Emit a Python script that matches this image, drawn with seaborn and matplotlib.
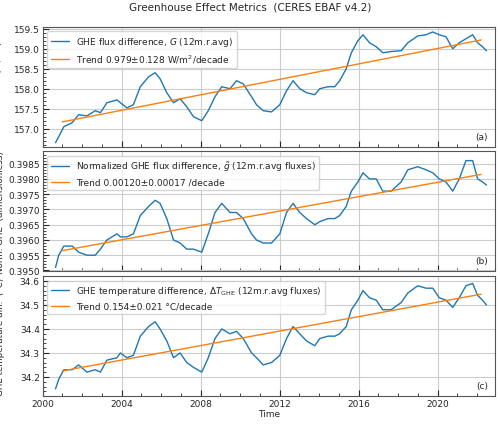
import numpy as np
import pandas as pd
import matplotlib
matplotlib.use("Agg")
import matplotlib.pyplot as plt
from matplotlib.ticker import MultipleLocator
import seaborn as sns

# values (12-month running averages)
years = [2000.66, 2000.82, 2001.08, 2001.5, 2001.83, 2002.25, 2002.67, 2002.93, 2003.26,
         2003.77, 2003.94, 2004.27, 2004.6, 2004.95, 2005.37, 2005.7, 2005.95, 2006.29,
         2006.63, 2006.96, 2007.3, 2007.64, 2008.06, 2008.39, 2008.73, 2009.07, 2009.49,
         2009.82, 2010.16, 2010.58, 2010.83, 2011.17, 2011.59, 2012.01, 2012.35, 2012.68,
         2013.02, 2013.36, 2013.78, 2014.03, 2014.45, 2014.79, 2015.04, 2015.37, 2015.63,
         2015.96, 2016.22, 2016.55, 2016.89, 2017.22, 2017.64, 2018.15, 2018.49, 2018.99,
         2019.41, 2019.75, 2020.08, 2020.42, 2020.76, 2021.09, 2021.43, 2021.77, 2022.02,
         2022.27, 2022.47]

ghe_flux = [156.65, 156.8, 157.05, 157.15, 157.35, 157.32, 157.45, 157.4, 157.65,
            157.72, 157.65, 157.52, 157.6, 158.05, 158.3, 158.4, 158.25, 157.9,
            157.65, 157.75, 157.55, 157.3, 157.2, 157.45, 157.8, 158.05, 158.0,
            158.2, 158.12, 157.8, 157.6, 157.45, 157.42, 157.6, 157.95, 158.2,
            158.0, 157.9, 157.85, 158.0, 158.05, 158.05, 158.2, 158.5, 158.9,
            159.2, 159.35, 159.15, 159.05, 158.9, 158.93, 158.95, 159.15, 159.32,
            159.35, 159.42, 159.35, 159.3, 159.0, 159.15, 159.25, 159.35, 159.15,
            159.05, 158.95]

norm_ghe = [0.3951, 0.3955, 0.3958, 0.3958, 0.3956, 0.3955, 0.3955, 0.3957, 0.3960,
            0.3962, 0.3961, 0.3961, 0.3962, 0.3968, 0.3971, 0.3973, 0.3972, 0.3967,
            0.3960, 0.3959, 0.3957, 0.3957, 0.3956, 0.3962, 0.3969, 0.3972, 0.3969,
            0.3969, 0.3967, 0.3962, 0.3960, 0.3959, 0.3959, 0.3962, 0.3969, 0.3972,
            0.3969, 0.3967, 0.3965, 0.3966, 0.3967, 0.3967, 0.3968, 0.3971, 0.3976,
            0.3979, 0.3982, 0.3980, 0.3980, 0.3976, 0.3976, 0.3979, 0.3983, 0.3984,
            0.3983, 0.3982, 0.3980, 0.3979, 0.3976, 0.3980, 0.3986, 0.3986, 0.3980,
            0.3979, 0.3978]

ghe_temp = [34.15, 34.19, 34.23, 34.23, 34.25, 34.22, 34.23, 34.22, 34.27,
            34.28, 34.30, 34.28, 34.29, 34.37, 34.41, 34.43, 34.40, 34.35,
            34.28, 34.30, 34.26, 34.24, 34.22, 34.28, 34.36, 34.40, 34.38,
            34.39, 34.36, 34.30, 34.28, 34.25, 34.26, 34.29, 34.36, 34.41,
            34.38, 34.35, 34.33, 34.36, 34.37, 34.37, 34.38, 34.41, 34.48,
            34.52, 34.56, 34.53, 34.52, 34.48, 34.48, 34.51, 34.55, 34.58,
            34.57, 34.57, 34.53, 34.52, 34.49, 34.53, 34.58, 34.59, 34.54,
            34.52, 34.50]

trend_years = [2001.0, 2022.2]
trend_flux = [157.17, 159.22]
trend_norm = [0.39565, 0.39815]
trend_temp = [34.225, 34.545]

sns.set_style("ticks")
plt.rcParams["mathtext.fontset"] = "dejavusans"
plt.rcParams["font.size"] = 7

panels = [
    (ghe_flux, trend_flux, "GHE flux difference, $G$ (12m.r.avg)",
     "Trend 0.979±0.128 W/m$^2$/decade", "GHE flux diff. (W/m$^2$)", (156.55, 159.55), 0.5, 0.1, "(a)"),
    (norm_ghe, trend_norm, r"Normalized GHE flux difference, $\tilde{g}$ (12m.r.avg fluxes)",
     "Trend 0.00120±0.00017 /decade", "Norm. GHE  (dimensionless)", (0.39497, 0.39890), 0.0005, 0.0001, "(b)"),
    (ghe_temp, trend_temp, r"GHE temperature difference, $\Delta T_{\rm GHE}$ (12m.r.avg fluxes)",
     "Trend 0.154±0.021 °C/decade", "GHE temperature diff.  (°C)", (34.12, 34.62), 0.1, 0.02, "(c)"),
]

fig, axes = plt.subplots(3, 1, figsize=(5, 4.27), dpi=100, sharex=True)
fig.subplots_adjust(left=0.085, right=0.99, top=0.935, bottom=0.07, hspace=0.04)

for ax, (vals, tr, lab, trlab, ylab, ylim, major, minor, tag) in zip(axes, panels):
    sns.lineplot(x=years, y=vals, ax=ax, color="#1f77b4", lw=1.0, label=lab)
    sns.lineplot(x=trend_years, y=tr, ax=ax, color="#ff7f0e", lw=1.0, label=trlab)
    ax.set_ylim(*ylim)
    ax.set_xlim(2000, 2022.9)
    ax.yaxis.set_major_locator(MultipleLocator(major))
    ax.yaxis.set_minor_locator(MultipleLocator(minor))
    ax.xaxis.set_major_locator(MultipleLocator(4))
    ax.xaxis.set_minor_locator(MultipleLocator(1))
    ax.grid(True, which="major", color="#cccccc", lw=0.8)
    ax.set_ylabel(ylab, fontsize=6.3, labelpad=2)
    ax.tick_params(labelsize=6.5, direction="in", which="both", pad=2)
    ax.tick_params(which="major", length=4)
    ax.tick_params(which="minor", length=2)
    for s in ax.spines.values():
        s.set_color("#555555")
    ax.legend(loc="upper left", fontsize=6.5, frameon=True, handlelength=2)
    ax.text(0.985, 0.05, tag, transform=ax.transAxes, ha="right", va="bottom", fontsize=6.5)

axes[2].set_xlabel("Time", fontsize=6.5, labelpad=1)
fig.align_ylabels(axes)
fig.suptitle("Greenhouse Effect Metrics  (CERES EBAF v4.2)", fontsize=7.5, y=0.995)
fig.savefig("out.png", dpi=100)
